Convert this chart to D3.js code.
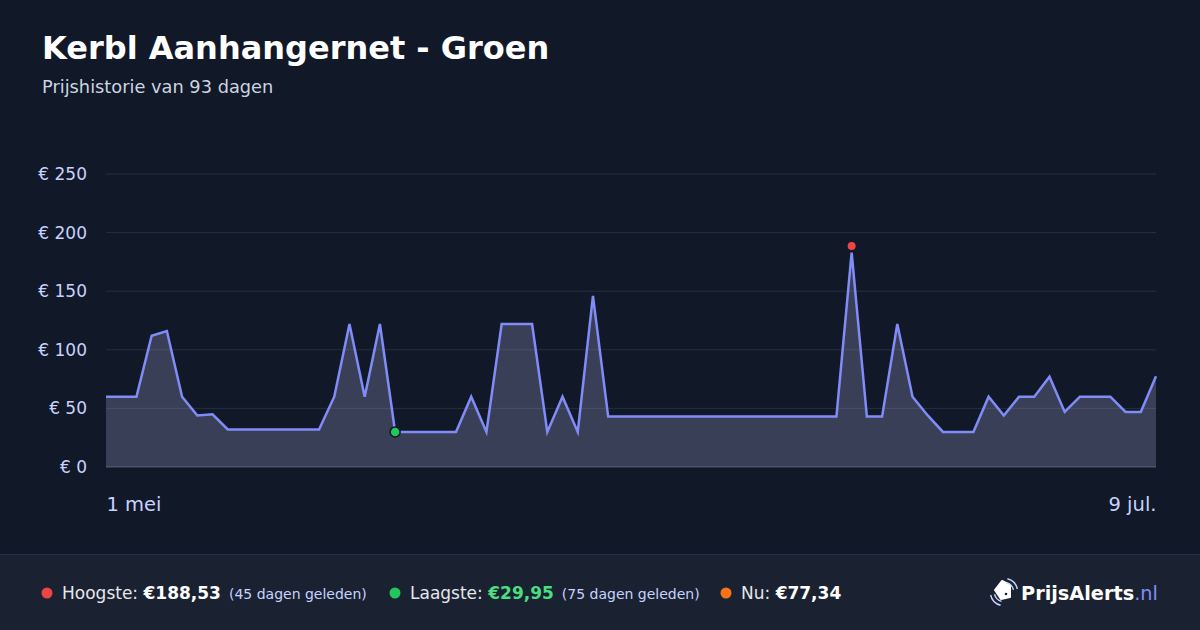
<!DOCTYPE html>
<html>
<head>
<meta charset="utf-8">
<script src="https://cdn.jsdelivr.net/npm/d3@7"></script>
<style>
  html, body { margin: 0; padding: 0; background: #111827; }
  svg { display: block; font-family: "DejaVu Sans", sans-serif; }
</style>
</head>
<body>
<div id="chart-area"></div>
<script>
// DATA
const startDate = new Date(2024, 4, 1)   // 1 mei
const prices = [
  60, 60, 60, 112, 116, 60, 44, 45, 32, 32,
  32, 32, 32, 32, 32, 60, 122, 60, 122, 29.95,
  29.95, 29.95, 29.95, 29.95, 60, 29.95, 122, 122, 122, 29.95,
  60, 29.95, 146, 43, 43, 43, 43, 43, 43, 43,
  43, 43, 43, 43, 43, 43, 43, 43, 43, 183,
  43, 43, 122, 60, 44, 29.95, 29.95, 29.95, 60, 44,
  60, 60, 77, 47, 60, 60, 60, 47, 47, 77.34
]
const yTicks = [0, 50, 100, 150, 200, 250]
const xTickLabels = ["1 mei", "9 jul."]
const highest = { value: 188.53, index: 49, label: "€188,53", ago: "(45 dagen geleden)" }
const lowest = { value: 29.95, index: 19, label: "€29,95", ago: "(75 dagen geleden)" }
const current = { label: "€77,34" }

const W = 1200
const H = 630
const MARGIN = { LEFT: 106, RIGHT: 44, TOP: 174, BOTTOM: 163 }
const WIDTH = W - MARGIN.LEFT - MARGIN.RIGHT
const HEIGHT = H - MARGIN.TOP - MARGIN.BOTTOM

const data = prices.map((p, i) => ({ date: d3.timeDay.offset(startDate, i), price: p }))

const svg = d3.select("#chart-area").append("svg")
  .attr("width", W)
  .attr("height", H)

svg.append("rect").attr("width", W).attr("height", H).attr("fill", "#111827")

// TITLE
svg.append("text")
  .attr("x", 42).attr("y", 59)
  .attr("fill", "#ffffff")
  .attr("font-size", 32).attr("font-weight", "bold")
  .text("Kerbl Aanhangernet - Groen")

svg.append("text")
  .attr("x", 42).attr("y", 93)
  .attr("fill", "#cbd5e1")
  .attr("font-size", 17.8)
  .text("Prijshistorie van 93 dagen")

const g = svg.append("g")
  .attr("transform", `translate(${MARGIN.LEFT}, ${MARGIN.TOP})`)

// SCALES
const x = d3.scaleTime()
  .domain(d3.extent(data, d => d.date))
  .range([0, WIDTH])

const y = d3.scaleLinear()
  .domain([0, 250])
  .range([HEIGHT, 0])

// GRID
g.selectAll(".grid")
  .data(yTicks)
  .enter().append("line")
  .attr("x1", 0).attr("x2", WIDTH)
  .attr("y1", d => y(d)).attr("y2", d => y(d))
  .attr("stroke", d => d === 0 ? "#4b5563" : "#263042")
  .attr("stroke-width", 1)

// Y AXIS
const yAxisCall = d3.axisLeft(y)
  .tickValues(yTicks)
  .tickSize(0)
  .tickPadding(19)
  .tickFormat(d => "€ " + d)
const yAxisGroup = g.append("g").call(yAxisCall)
yAxisGroup.select(".domain").remove()
yAxisGroup.selectAll("text")
  .attr("fill", "#c7d2fe")
  .attr("font-size", 17)
  .attr("font-family", "DejaVu Sans, sans-serif")

// X AXIS (first and last only)
const xAxisCall = d3.axisBottom(x)
  .tickValues([data[0].date, data[data.length - 1].date])
  .tickSize(0)
  .tickPadding(30)
  .tickFormat((d, i) => xTickLabels[i])
const xAxisGroup = g.append("g")
  .attr("transform", `translate(0, ${HEIGHT})`)
  .call(xAxisCall)
xAxisGroup.select(".domain").remove()
xAxisGroup.selectAll("text")
  .attr("fill", "#c7d2fe")
  .attr("font-size", 19.5)
  .attr("font-family", "DejaVu Sans, sans-serif")
  .attr("text-anchor", (d, i) => i === 0 ? "start" : "end")

// AREA + LINE
const area = d3.area()
  .x(d => x(d.date))
  .y0(y(0))
  .y1(d => y(d.price))

const line = d3.line()
  .x(d => x(d.date))
  .y(d => y(d.price))

g.append("path")
  .datum(data)
  .attr("d", area)
  .attr("fill", "#9d9dca")
  .attr("fill-opacity", 0.3)

g.append("path")
  .datum(data)
  .attr("d", line)
  .attr("fill", "none")
  .attr("stroke", "#818cf8")
  .attr("stroke-width", 2.5)
  .attr("stroke-linejoin", "miter")

// MARKERS
g.append("circle")
  .attr("cx", x(data[highest.index].date))
  .attr("cy", y(highest.value))
  .attr("r", 4)
  .attr("fill", "#ef4444")

g.append("circle")
  .attr("cx", x(data[lowest.index].date))
  .attr("cy", y(lowest.value))
  .attr("r", 5)
  .attr("fill", "#22c55e")
  .attr("stroke", "#111827")
  .attr("stroke-width", 1.5)

// FOOTER
const footer = svg.append("g").attr("transform", "translate(0, 554)")
footer.append("rect").attr("width", W).attr("height", H - 554).attr("fill", "#1a2232")
footer.append("line").attr("x1", 0).attr("x2", W).attr("y1", 0.5).attr("y2", 0.5)
  .attr("stroke", "#25304f").attr("stroke-width", 1)

const stats = [
  { x: 47, color: "#ef4444", name: "Hoogste: ", value: highest.label, valueColor: "#ffffff", ago: highest.ago },
  { x: 395, color: "#22c55e", name: "Laagste: ", value: lowest.label, valueColor: "#4ade80", ago: lowest.ago },
  { x: 726, color: "#f97316", name: "Nu: ", value: current.label, valueColor: "#ffffff", ago: null }
]

stats.forEach(s => {
  footer.append("circle").attr("cx", s.x).attr("cy", 39).attr("r", 5.5).attr("fill", s.color)
  const t = footer.append("text")
    .attr("x", s.x + 15).attr("y", 45)
    .attr("font-size", 17)
    .attr("fill", "#e5e7eb")
  t.append("tspan").text(s.name)
  t.append("tspan").attr("font-weight", "bold").attr("fill", s.valueColor).text(s.value)
  if (s.ago) {
    t.append("tspan").attr("dx", 8).attr("font-size", 14).attr("fill", "#c7d2fe").text(s.ago)
  }
})

// LOGO
const logo = footer.append("g").attr("transform", "translate(1004, 38)")
logo.append("path")
  .attr("d", "M-9,-2 L-2,-11 L6,-7 L6,5 L-3,7 Z")
  .attr("fill", "#ffffff")
  .attr("stroke", "#ffffff")
  .attr("stroke-linejoin", "round")
  .attr("stroke-width", 2)
logo.append("circle").attr("cx", 2).attr("cy", 2).attr("r", 1.3).attr("fill", "#1a2232")
;[9, 13].forEach(r => {
  logo.append("path")
    .attr("d", d3.arc()({ innerRadius: r, outerRadius: r + 1.4, startAngle: 0.25, endAngle: 1.35 }))
    .attr("fill", "#c7d2fe")
  logo.append("path")
    .attr("d", d3.arc()({ innerRadius: r, outerRadius: r + 1.4, startAngle: Math.PI + 0.25, endAngle: Math.PI + 1.35 }))
    .attr("fill", "#c7d2fe")
})
const logoText = footer.append("text")
  .attr("x", 1021).attr("y", 46)
  .attr("font-size", 19.3)
logoText.append("tspan").attr("font-weight", "bold").attr("fill", "#ffffff").text("PrijsAlerts")
logoText.append("tspan").attr("fill", "#818cf8").text(".nl")
</script>
</body>
</html>
